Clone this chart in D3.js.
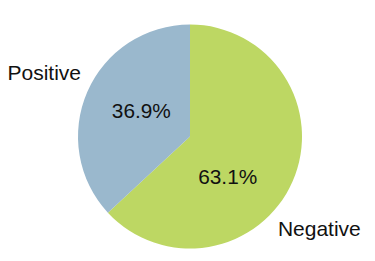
<!DOCTYPE html>
<html>
<head>
<meta charset="utf-8">
<script src="https://cdn.jsdelivr.net/npm/d3@7"></script>
<style>
  html, body { margin: 0; padding: 0; background: #fff; }
  svg { display: block; font-family: "Liberation Sans", Arial, sans-serif; }
</style>
</head>
<body>
<svg id="chart" width="375" height="261"></svg>
<script>
var categories = ["Negative", "Positive"];
var values = [63.1, 36.9];
var colors = ["#bdd763", "#9ab8cd"];

// Excel nudges the labels a bit off the bisector, so a small angle shift per slice
var pctShift = [23, 4];
var nameShift = [12, 0];

var width = 375, height = 261;
var cx = 190, cy = 136.5, radius = 112;

var svg = d3.select("#chart");
var g = svg.append("g").attr("transform", "translate(" + cx + "," + cy + ")");

var pie = d3.pie().sort(null).value(function(d) { return d; });
var arcs = pie(values);

var arc = d3.arc().innerRadius(0).outerRadius(radius);

g.selectAll("path.slice")
  .data(arcs)
  .enter().append("path")
  .attr("class", "slice")
  .attr("d", arc)
  .attr("fill", function(d, i) { return colors[i]; });

function labelPos(d, shiftDeg, r) {
  var a = (d.startAngle + d.endAngle) / 2 + shiftDeg * Math.PI / 180;
  return [Math.sin(a) * r, -Math.cos(a) * r];
}

g.selectAll("text.pct")
  .data(arcs)
  .enter().append("text")
  .attr("class", "pct")
  .attr("x", function(d, i) { return labelPos(d, pctShift[i], radius * 0.49)[0]; })
  .attr("y", function(d, i) { return labelPos(d, pctShift[i], radius * 0.49)[1]; })
  .attr("dy", "0.35em")
  .attr("text-anchor", "middle")
  .attr("font-size", "21px")
  .attr("textLength", 59)
  .attr("lengthAdjust", "spacingAndGlyphs")
  .attr("fill", "#111")
  .text(function(d) { return d3.format(".1f")(d.value) + "%"; });

g.selectAll("text.name")
  .data(arcs)
  .enter().append("text")
  .attr("class", "name")
  .attr("x", function(d, i) { return labelPos(d, nameShift[i], radius * 1.42)[0]; })
  .attr("y", function(d, i) { return labelPos(d, nameShift[i], radius * 1.42)[1]; })
  .attr("dy", "0.35em")
  .attr("text-anchor", "middle")
  .attr("font-size", "21px")
  .attr("fill", "#111")
  .text(function(d, i) { return categories[i]; });
</script>
</body>
</html>
